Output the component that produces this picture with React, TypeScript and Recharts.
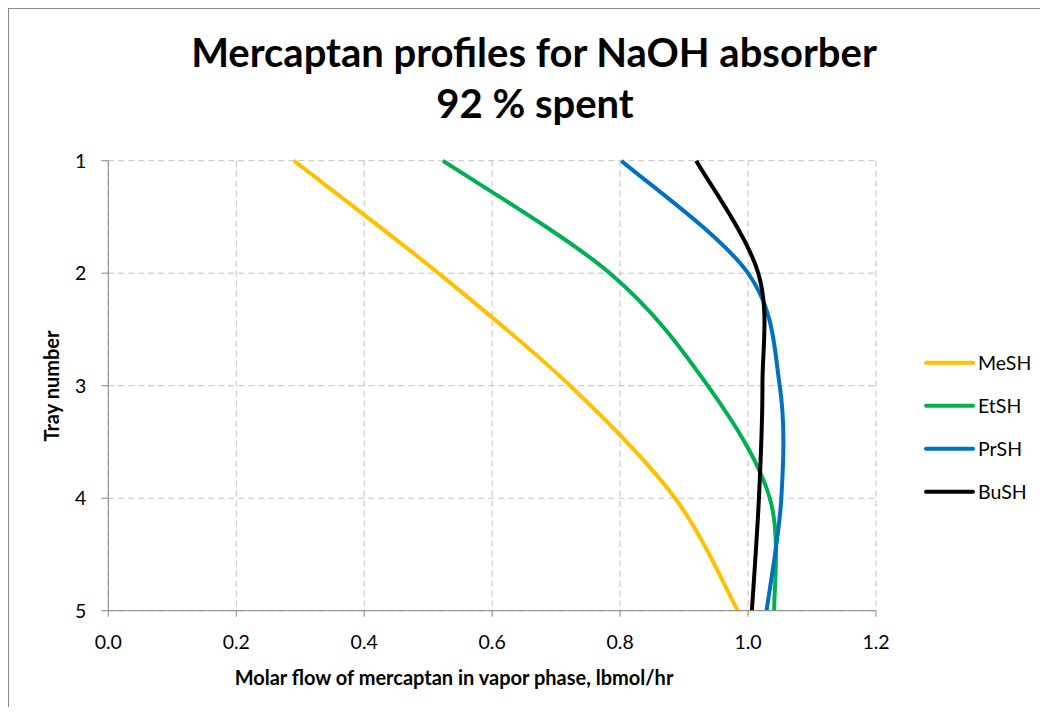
import React from "react";
import { LineChart, Line, XAxis, YAxis, CartesianGrid, Legend } from "recharts";

const trays = [1, 2, 3, 4, 5];
const meshValues = [0.29, 0.516, 0.722, 0.886, 0.984];
const etshValues = [0.523, 0.784, 0.937, 1.034, 1.041];
const prshValues = [0.802, 1.0, 1.0495, 1.052, 1.029];
const bushValues = [0.919, 1.016, 1.0225, 1.017, 1.006];
const xTicks = [0, 0.2, 0.4, 0.6, 0.8, 1.0, 1.2];
const yTicks = [1, 2, 3, 4, 5];

const seriesNames = ["MeSH", "EtSH", "PrSH", "BuSH"];
const seriesColors = ["#FFC000", "#00B050", "#0070C0", "#000000"];
const seriesValues = [meshValues, etshValues, prshValues, bushValues];

const data = trays.map((t, i) => {
  const row: Record<string, number> = { tray: t };
  seriesNames.forEach((n, k) => {
    row[n] = seriesValues[k][i];
  });
  return row;
});

const FONT = "Lato, Carlito, 'Open Sans', sans-serif";

// Excel-like smoothed line (Catmull-Rom Bezier through points)
const excelCurve = (context: any) => {
  let pts: number[][] = [];
  return {
    areaStart() {},
    areaEnd() {},
    lineStart() {
      pts = [];
    },
    lineEnd() {
      const n = pts.length;
      if (!n) return;
      context.moveTo(pts[0][0], pts[0][1]);
      for (let i = 0; i < n - 1; i++) {
        const p0 = pts[i - 1] || pts[i];
        const p1 = pts[i];
        const p2 = pts[i + 1];
        const p3 = pts[i + 2] || pts[i + 1];
        context.bezierCurveTo(
          p1[0] + (p2[0] - p0[0]) / 6,
          p1[1] + (p2[1] - p0[1]) / 6,
          p2[0] - (p3[0] - p1[0]) / 6,
          p2[1] - (p3[1] - p1[1]) / 6,
          p2[0],
          p2[1]
        );
      }
    },
    point(x: number, y: number) {
      pts.push([+x, +y]);
    },
  };
};

const renderLegend = (props: any) => {
  const payload = [...(props.payload || [])].sort(
    (a: any, b: any) => seriesNames.indexOf(a.value) - seriesNames.indexOf(b.value)
  );
  return (
    <svg width={120} height={180} style={{ overflow: "visible" }}>
      {payload.map((entry: any, i: number) => {
        const cy = 17.7 + i * 43;
        return (
          <g key={i}>
            <line x1={2} x2={49} y1={cy} y2={cy} stroke={entry.color} strokeWidth={4} strokeLinecap="round" />
            <text x={54} y={cy} dy="0.36em" fontFamily={FONT} fontSize={19.5} fill="#000">
              {entry.value}
            </text>
          </g>
        );
      })}
    </svg>
  );
};

export default function App() {
  return (
    <div style={{ position: "relative", width: 1032, height: 699, overflow: "hidden", background: "#fff" }}>
      <div
        style={{
          position: "absolute",
          left: 0,
          top: 0,
          width: 1032,
          height: 699,
          borderLeft: "1px solid #8a8a8a",
          borderTop: "1px solid #8a8a8a",
          boxSizing: "border-box",
        }}
      />
      <div style={{ position: "absolute", left: 0, top: 0 }}>
        <LineChart
          width={1032}
          height={699}
          layout="vertical"
          data={data}
          margin={{ top: 152.7, right: 164, bottom: 66.3, left: 40.3 }}
        >
          <CartesianGrid stroke="#C0C0C0" strokeDasharray="6 4" />
          <XAxis
            type="number"
            domain={[0, 1.2]}
            ticks={xTicks}
            tickFormatter={(v: number) => v.toFixed(1)}
            height={30}
            allowDataOverflow
            stroke="#868686"
            tickSize={6}
            tickMargin={18}
            tick={{ fill: "#000", fontSize: 19.5, fontFamily: FONT }}
          />
          <YAxis
            type="number"
            dataKey="tray"
            domain={[1, 5]}
            ticks={yTicks}
            width={60}
            stroke="#868686"
            tickSize={7}
            tickMargin={15}
            tick={{ fill: "#000", fontSize: 19.5, fontFamily: FONT }}
          />
          {seriesNames.map((n, k) => (
            <Line
              key={n}
              dataKey={n}
              name={n}
              type={excelCurve as any}
              stroke={seriesColors[k]}
              strokeWidth={4}
              dot={false}
              activeDot={false}
              isAnimationActive={false}
            />
          ))}
          <Legend
            layout="horizontal"
            verticalAlign="middle"
            align="center"
            wrapperStyle={{ left: 916, top: 337, width: 120, height: 180 }}
            content={renderLegend}
          />
        </LineChart>
      </div>
      <svg
        width={1032}
        height={699}
        style={{ position: "absolute", left: 0, top: 0, pointerEvents: "none" }}
      >
        <text x={526} y={59} textAnchor="middle" fontFamily={FONT} fontWeight="bold" fontSize={40} fill="#000">
          Mercaptan profiles for NaOH absorber
        </text>
        <text x={527} y={110} textAnchor="middle" fontFamily={FONT} fontWeight="bold" fontSize={40} fill="#000">
          92 % spent
        </text>
        <text x={446} y={677} textAnchor="middle" fontFamily={FONT} fontWeight="bold" fontSize={20} fill="#000">
          Molar flow of mercaptan in vapor phase, lbmol/hr
        </text>
        <text
          x={51}
          y={378}
          textAnchor="middle"
          fontFamily={FONT}
          fontWeight="bold"
          fontSize={20}
          fill="#000"
          transform="rotate(-90, 51, 378)"
        >
          Tray number
        </text>
      </svg>
    </div>
  );
}
